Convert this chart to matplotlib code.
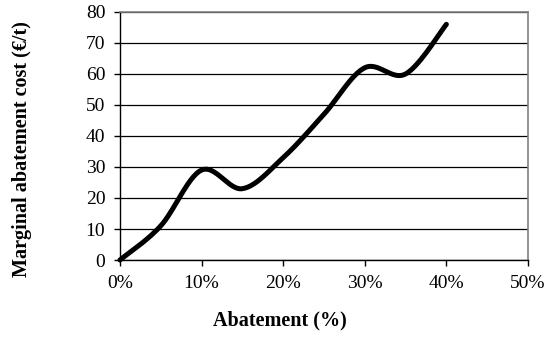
import numpy as np
import matplotlib
matplotlib.use("Agg")
import matplotlib.pyplot as plt
from matplotlib.ticker import FuncFormatter

plt.rcParams['font.family'] = ['Liberation Serif', 'DejaVu Serif']

# values
abatement_pct = [0, 5, 10, 15, 20, 25, 30, 35, 40]
cost = [0, 11, 29, 23, 33, 47, 62, 60, 76]


def smooth(xs, ys, n=30):
    # Excel-like smoothed line: Catmull-Rom through each point
    x = np.asarray(xs, float)
    y = np.asarray(ys, float)
    px = np.concatenate([[x[0]], x, [x[-1]]])
    py = np.concatenate([[y[0]], y, [y[-1]]])
    out_x, out_y = [], []
    t = np.linspace(0, 1, n)
    for i in range(1, len(px) - 2):
        p0, p1, p2, p3 = (np.array([px[j], py[j]]) for j in (i - 1, i, i + 1, i + 2))
        c1 = p1 + (p2 - p0) / 6
        c2 = p2 - (p3 - p1) / 6
        b = ((1 - t)**3)[:, None] * p1 + (3 * (1 - t)**2 * t)[:, None] * c1 \
            + (3 * (1 - t) * t**2)[:, None] * c2 + (t**3)[:, None] * p2
        out_x.extend(b[:, 0])
        out_y.extend(b[:, 1])
    return np.array(out_x), np.array(out_y)


fig = plt.figure(figsize=(5.5, 3.41), dpi=100)
ax = fig.add_axes([0.218, 0.2375, 0.742, 0.7275])

sx, sy = smooth(abatement_pct, cost)
ax.plot(sx, sy, color="black", lw=3.6, solid_capstyle="round", zorder=3, clip_on=False)

ax.set_xlim(0, 50)
ax.set_ylim(0, 80)
ax.set_xticks(range(0, 51, 10))
ax.set_yticks(range(0, 81, 10))
ax.xaxis.set_major_formatter(FuncFormatter(lambda v, p: f"{v:.0f}%"))
ax.yaxis.grid(True, color="black", lw=0.9)
ax.set_axisbelow(True)

for s in ("top", "right"):
    ax.spines[s].set_color("#808080")
    ax.spines[s].set_linewidth(1.2)
for s in ("left", "bottom"):
    ax.spines[s].set_color("black")
    ax.spines[s].set_linewidth(1.0)

ax.tick_params(direction="out", length=4.5, width=1, labelsize=14)
ax.tick_params(axis="y", pad=6)
ax.tick_params(axis="x", pad=6.5)

ax.set_xlabel("Abatement (%)", fontsize=14.5, fontweight="bold")
ax.set_ylabel("Marginal abatement cost (€/t)", fontsize=14.5, fontweight="bold")
ax.xaxis.set_label_coords(0.392, -0.205)
ax.yaxis.set_label_coords(-0.216, 0.448)

fig.savefig("out.png", dpi=100)
